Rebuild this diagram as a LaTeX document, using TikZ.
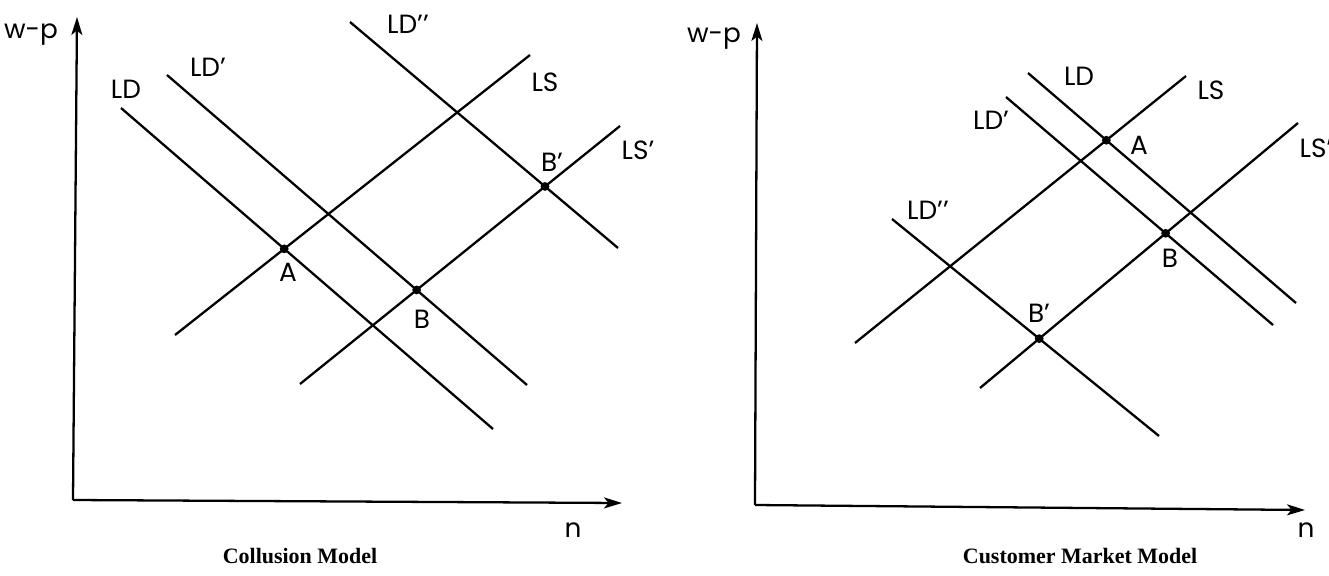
\documentclass[tikz,border=0pt]{standalone}
\usepackage{fontspec}
\setmainfont{Liberation Serif}
\newfontfamily\lblfont{Poppins}
\usetikzlibrary{arrows.meta,calc}
\tikzset{
  axisln/.style={-{Stealth[length=3.6mm,width=2.2mm,inset=0.9mm]}, line width=1.3pt},
  curveln/.style={line width=1.3pt},
  lbl/.style={font=\lblfont\fontsize{15}{17}\selectfont, inner sep=0pt},
  ttl/.style={font=\fontsize{12.5}{14}\selectfont\bfseries, inner sep=0pt},
}
\newcommand{\eqdot}[1]{%
  \fill #1 circle (2.5pt);
}

\begin{document}
\begin{tikzpicture}[x=0.02cm, y=-0.02cm]
  \useasboundingbox (0,0) rectangle (1329,575);
  % collusion model
  \coordinate (cO) at (73,500);
  \coordinate (cY) at (77,17);
  \coordinate (cX) at (622,503);
  \draw[axisln] (cO) -- (cY);
  \draw[axisln] (cO) -- (cX);
  \coordinate (cLDa) at (121,108);   \coordinate (cLDb) at (493,429);
  \coordinate (cLDpa) at (167,75);   \coordinate (cLDpb) at (527,385);
  \coordinate (cLDqa) at (350,22);   \coordinate (cLDqb) at (618,248);
  \coordinate (cLSa) at (175,335);   \coordinate (cLSb) at (530,55);
  \coordinate (cLSpa) at (300,384);  \coordinate (cLSpb) at (620,126);
  \draw[curveln] (cLDa) -- (cLDb);
  \draw[curveln] (cLDpa) -- (cLDpb);
  \draw[curveln] (cLDqa) -- (cLDqb);
  \draw[curveln] (cLSa) -- (cLSb);
  \draw[curveln] (cLSpa) -- (cLSpb);
  \coordinate (cA) at (intersection of cLDa--cLDb and cLSa--cLSb);
  \coordinate (cB) at (intersection of cLDpa--cLDpb and cLSpa--cLSpb);
  \coordinate (cBp) at (intersection of cLDqa--cLDqb and cLSpa--cLSpb);
  \eqdot{(cA)}
  \eqdot{(cB)}
  \eqdot{(cBp)}
  \node[lbl] (cwp) at (31,35) {w-p};
  \node[lbl] (cn) at (573,530) {n};
  \node[lbl] (cLDl) at (126,89) {LD};
  \node[lbl] (cLDpl) at (208,67) {LD’};
  \node[lbl] (cLDql) at (408,24) {LD’’};
  \node[lbl] (cLSl) at (545,82) {LS};
  \node[lbl] (cLSpl) at (638,150) {LS’};
  \node[lbl] (cAl) at (288,272) {A};
  \node[lbl] (cBl) at (422,319) {B};
  \node[lbl] (cBpl) at (552,162) {B’};
  \node[ttl] (ctitle) at (300,556) {Collusion Model};

  % customer market model
  \coordinate (mO) at (755,505);
  \coordinate (mY) at (757,23);
  \coordinate (mX) at (1305,510);
  \draw[axisln] (mO) -- (mY);
  \draw[axisln] (mO) -- (mX);
  \coordinate (mLDa) at (1028,73);   \coordinate (mLDb) at (1296,303);
  \coordinate (mLDpa) at (1006,97);  \coordinate (mLDpb) at (1273,325);
  \coordinate (mLDqa) at (892,219);  \coordinate (mLDqb) at (1159,436);
  \coordinate (mLSa) at (855,343);   \coordinate (mLSb) at (1186,76);
  \coordinate (mLSpa) at (980,388);  \coordinate (mLSpb) at (1298,123);
  \draw[curveln] (mLDa) -- (mLDb);
  \draw[curveln] (mLDpa) -- (mLDpb);
  \draw[curveln] (mLDqa) -- (mLDqb);
  \draw[curveln] (mLSa) -- (mLSb);
  \draw[curveln] (mLSpa) -- (mLSpb);
  \coordinate (mA) at (intersection of mLDa--mLDb and mLSa--mLSb);
  \coordinate (mB) at (intersection of mLDpa--mLDpb and mLSpa--mLSpb);
  \coordinate (mBp) at (intersection of mLDqa--mLDqb and mLSpa--mLSpb);
  \eqdot{(mA)}
  \eqdot{(mB)}
  \eqdot{(mBp)}
  \node[lbl] (mwp) at (714,39) {w-p};
  \node[lbl] (mn) at (1306,530) {n};
  \node[lbl] (mLDl) at (1079,76) {LD};
  \node[lbl] (mLDpl) at (991,120) {LD’};
  \node[lbl] (mLDql) at (928,210) {LD’’};
  \node[lbl] (mLSl) at (1211,90) {LS};
  \node[lbl] (mLSpl) at (1316,148) {LS’};
  \node[lbl] (mAl) at (1139,145) {A};
  \node[lbl] (mBl) at (1170,258) {B};
  \node[lbl] (mBpl) at (1039,313) {B’};
  \node[ttl] (mtitle) at (1080,556) {Customer Market Model};
\end{tikzpicture}
\end{document}
